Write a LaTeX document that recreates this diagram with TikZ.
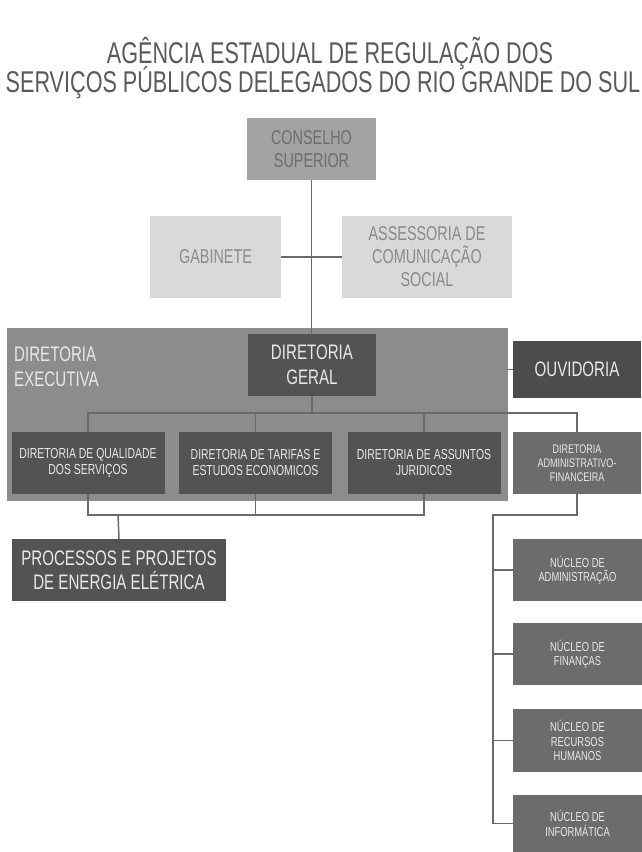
\documentclass[tikz,border=0pt]{standalone}
\usepackage{fontspec}
\setmainfont[FakeStretch=0.72]{Liberation Sans}
\begin{document}
\begin{tikzpicture}[x=1pt,y=-1pt,
  box/.style={rectangle,inner sep=0pt,align=center,draw=none},
  lightbox/.style={box,fill=lgray,text=ltext,font=\fontsize{20}{23}\selectfont},
  midbox/.style={box,fill=mgray,text=mtext,font=\fontsize{20}{23}\selectfont},
  darkbox/.style={box,fill=dgray,text=wtext},
  subbox/.style={darkbox,minimum width=153pt,minimum height=62pt,font=\fontsize{14.5}{16}\selectfont},
  nucbox/.style={box,fill=ngray,text=wtext,minimum width=129pt,font=\fontsize{13}{14.5}\selectfont},
  conn/.style={draw=lcol,line width=1.5pt}]
\definecolor{lgray}{HTML}{D9D9D9}
\definecolor{ltext}{HTML}{8A8A8A}
\definecolor{mgray}{HTML}{A3A3A3}
\definecolor{mtext}{HTML}{6E6E6E}
\definecolor{bgray}{HTML}{8C8C8C}
\definecolor{dgray}{HTML}{535353}
\definecolor{ngray}{HTML}{6C6C6C}
\definecolor{wtext}{HTML}{E8E8E8}
\definecolor{lcol}{HTML}{6A6A6A}
\definecolor{ttext}{HTML}{5A5A5A}
\fill[white] (0,0) rectangle (642,852);
\useasboundingbox (0,0) rectangle (642,852);
% title
\node[anchor=base,inner sep=0pt,text=ttext,font=\fontsize{30}{34}\selectfont] (t1) at (330,63) {AGÊNCIA ESTADUAL DE REGULAÇÃO DOS};
\node[anchor=base,inner sep=0pt,text=ttext,font=\fontsize{30}{34}\selectfont] (t2) at (323,92) {SERVIÇOS PÚBLICOS DELEGADOS DO RIO GRANDE DO SUL};
% top boxes
\node[midbox,minimum width=129pt,minimum height=62pt] (cs) at (311.5,149) {CONSELHO\\SUPERIOR};
\node[lightbox,minimum width=131pt,minimum height=82pt] (gab) at (215.5,257) {GABINETE};
\node[lightbox,minimum width=170pt,minimum height=82pt] (asc) at (427,257) {ASSESSORIA DE\\COMUNICAÇÃO\\SOCIAL};
% big executive box
\node[box,fill=bgray,minimum width=501pt,minimum height=173pt] (de) at (257.5,414.5) {};
\node[anchor=north west,inner sep=0pt,align=left,text=wtext,font=\fontsize{21}{25}\selectfont] (delbl) at (14,347) {DIRETORIA\\EXECUTIVA};
\node[darkbox,minimum width=128pt,minimum height=62pt,font=\fontsize{21}{25}\selectfont] (dg) at (312,365) {DIRETORIA\\GERAL};
\node[darkbox,fill=dgray!92!black,minimum width=128pt,minimum height=57pt,font=\fontsize{21}{25}\selectfont] (ouv) at (577,369.5) {OUVIDORIA};
\node[subbox] (dqs) at (88,463) {DIRETORIA DE QUALIDADE\\DOS SERVIÇOS};
\node[subbox] (dtee) at (255.5,463) {DIRETORIA DE TARIFAS E\\ESTUDOS ECONOMICOS};
\node[subbox] (daj) at (424,463) {DIRETORIA DE ASSUNTOS\\JURIDICOS};
\node[box,fill=ngray,text=wtext,minimum width=128pt,minimum height=62pt,font=\fontsize{12.5}{14}\selectfont] (daf) at (577,463) {DIRETORIA\\ADMINISTRATIVO-\\FINANCEIRA};
% lower boxes
\node[darkbox,minimum width=214pt,minimum height=62pt,font=\fontsize{21}{24}\selectfont] (proc) at (119,570) {PROCESSOS E PROJETOS\\DE ENERGIA ELÉTRICA};
\node[nucbox,minimum height=62pt] (n1) at (577.5,570) {NÚCLEO DE\\ADMINISTRAÇÃO};
\node[nucbox,minimum height=62pt] (n2) at (577.5,654) {NÚCLEO DE\\FINANÇAS};
\node[nucbox,minimum height=63pt] (n3) at (577.5,740.5) {NÚCLEO DE\\RECURSOS\\HUMANOS};
\node[nucbox,minimum height=57pt] (n4) at (577.5,823.5) {NÚCLEO DE\\INFORMÁTICA};
% junction coordinates
\coordinate (hb) at (312,413);
\coordinate (lb) at (118,515);
\coordinate (rb) at (493,515);
% connectors
\draw[conn] (cs.south) -- (cs.south |- dg.north);
\draw[conn] (gab.east) -- (asc.west);
\draw[conn] (dg.south) -- (hb);
\draw[conn] (dqs.north) |- (hb) -| (daf.north);
\draw[conn] (dtee.north) -- (dtee.north |- hb);
\draw[conn] (daj.north) -- (daj.north |- hb);
\draw[conn] (de.east |- ouv.west) -- (ouv.west);
\draw[conn] (dqs.south) |- (lb) -| (daj.south);
\draw[conn] (dtee.south) -- (dtee.south |- lb);
\draw[conn] (lb) -- (proc.north);
\draw[conn] (daf.south) |- (rb) |- (n4.west);
\draw[conn] (rb |- n1.west) -- (n1.west);
\draw[conn] (rb |- n2.west) -- (n2.west);
\draw[conn] (rb |- n3.west) -- (n3.west);
\end{tikzpicture}
\end{document}
